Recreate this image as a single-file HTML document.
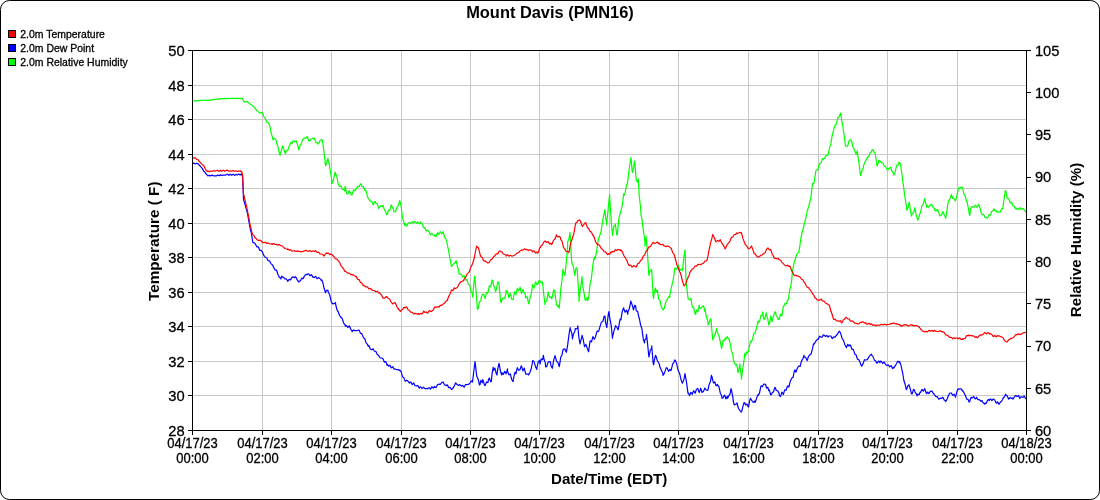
<!DOCTYPE html>
<html><head><meta charset="utf-8"><title>Mount Davis (PMN16)</title>
<style>html,body{margin:0;padding:0;background:#fff;width:1100px;height:500px;overflow:hidden} .n{stroke:#000;stroke-width:0.3px}</style>
</head><body>
<svg width="1100" height="500" viewBox="0 0 1100 500" style="display:block">
<rect x="0.5" y="0.5" width="1099" height="499" rx="9" ry="9" fill="#fff" stroke="#000" stroke-width="1"/>
<path d="M262.5,50 V430 M331.5,50 V430 M401.5,50 V430 M470.5,50 V430 M539.5,50 V430 M609.5,50 V430 M678.5,50 V430 M748.5,50 V430 M818.5,50 V430 M887.5,50 V430 M957.5,50 V430 M192,395.5 H1026 M192,361.5 H1026 M192,326.5 H1026 M192,292.5 H1026 M192,257.5 H1026 M192,223.5 H1026 M192,188.5 H1026 M192,154.5 H1026 M192,119.5 H1026 M192,85.5 H1026" stroke="#c8c8c8" stroke-width="1" fill="none"/>
<path d="M192.5,100.9 L192.5,101.0 L193.9,101.0 L195.3,100.7 L196.7,100.9 L198.1,100.5 L199.5,100.6 L200.0,100.5 L200.9,100.2 L202.3,100.5 L203.7,100.0 L205.1,100.4 L206.5,100.3 L207.9,100.3 L209.3,100.0 L210.7,100.3 L211.0,100.0 L212.1,99.6 L213.5,99.7 L214.9,99.3 L216.3,99.2 L217.0,99.0 L217.7,98.8 L219.1,99.1 L220.5,98.7 L221.9,98.5 L223.3,99.0 L224.7,98.4 L226.1,98.8 L227.5,98.7 L228.9,98.3 L230.0,98.5 L230.3,98.7 L231.7,98.2 L233.1,98.3 L234.5,98.4 L235.9,98.7 L237.3,98.3 L238.7,98.2 L240.1,98.8 L241.5,98.2 L242.6,98.5 L242.9,99.6 L244.0,102.0 L244.3,102.1 L245.7,101.5 L247.0,101.6 L247.1,101.9 L248.5,102.6 L249.9,104.0 L251.3,104.6 L252.7,106.1 L253.0,106.0 L254.1,107.0 L255.5,109.0 L256.9,110.5 L258.3,111.6 L259.0,112.5 L259.7,112.8 L261.1,112.6 L262.0,112.5 L262.5,112.9 L263.9,116.9 L265.3,118.1 L265.5,119.0 L266.7,121.9 L268.1,122.6 L269.5,124.9 L270.0,127.0 L270.9,132.0 L272.3,136.7 L273.0,140.0 L273.7,138.7 L275.1,138.7 L276.0,140.0 L276.5,142.7 L277.9,146.2 L279.3,153.0 L280.0,155.4 L280.7,152.6 L282.1,148.3 L282.7,146.0 L283.5,147.8 L284.9,152.6 L285.5,153.5 L286.3,150.7 L287.7,150.2 L288.4,148.7 L289.1,146.2 L290.5,143.6 L291.0,142.0 L291.9,143.4 L293.3,140.7 L294.7,141.6 L296.0,141.0 L296.1,140.7 L297.5,144.5 L298.9,150.0 L299.0,148.7 L300.3,145.2 L301.7,142.4 L301.8,142.0 L303.1,139.0 L304.5,138.0 L305.9,138.3 L306.5,137.0 L307.3,136.6 L308.7,140.8 L310.0,141.0 L310.1,140.5 L311.5,138.7 L312.9,138.2 L314.0,139.0 L314.3,138.1 L315.7,142.0 L317.1,142.7 L318.0,144.0 L318.5,144.0 L319.9,140.7 L321.3,139.6 L322.0,139.6 L322.7,142.3 L323.7,150.0 L324.1,152.7 L325.5,165.7 L325.6,166.0 L326.9,161.4 L328.0,158.3 L328.3,161.1 L329.5,165.0 L329.7,167.3 L331.1,175.4 L332.0,183.4 L332.5,182.7 L333.9,177.9 L335.2,172.0 L335.3,173.2 L336.7,175.9 L338.1,183.5 L339.0,185.3 L339.5,186.5 L340.9,185.7 L342.3,189.0 L343.7,189.6 L344.7,191.0 L345.1,186.5 L345.3,186.3 L346.5,193.1 L347.0,194.0 L347.9,194.0 L349.3,190.3 L349.5,191.0 L350.7,193.7 L351.4,195.0 L352.1,194.9 L353.5,189.9 L354.3,190.0 L354.9,190.9 L356.3,188.7 L357.7,186.4 L359.1,186.7 L360.5,183.7 L361.0,184.0 L361.9,186.7 L363.3,186.2 L364.7,190.3 L364.8,189.0 L366.1,190.8 L367.5,196.8 L368.6,198.7 L368.9,198.9 L370.3,201.1 L371.7,201.1 L373.1,204.9 L373.4,204.4 L374.5,201.7 L375.3,201.5 L375.9,203.5 L377.3,203.7 L378.7,208.5 L379.0,208.0 L380.1,206.7 L381.5,205.5 L382.9,206.7 L383.0,205.4 L384.3,209.7 L385.7,211.7 L386.5,214.7 L387.1,214.8 L388.5,210.3 L389.9,210.3 L391.3,204.9 L391.5,206.0 L392.7,207.3 L394.1,211.6 L395.3,211.9 L395.5,211.8 L396.9,207.4 L398.3,205.5 L399.7,200.6 L400.0,201.0 L401.1,206.3 L402.5,217.6 L403.0,219.5 L403.9,222.1 L404.8,225.5 L405.3,223.7 L406.7,226.3 L408.1,223.3 L409.5,222.3 L410.9,223.9 L412.3,221.9 L413.7,222.6 L414.4,221.7 L415.1,221.7 L416.5,223.1 L417.9,222.1 L419.3,224.0 L420.7,221.9 L421.0,223.6 L422.1,223.6 L423.5,227.6 L424.9,227.7 L425.8,230.3 L426.3,231.0 L427.7,230.1 L429.1,231.9 L430.5,234.9 L431.9,233.2 L433.3,235.5 L434.4,236.0 L434.7,235.0 L436.1,236.5 L437.5,232.7 L438.9,234.6 L439.2,233.0 L440.3,231.6 L441.7,233.7 L443.0,233.0 L443.1,231.7 L444.5,236.8 L445.9,239.1 L446.8,241.7 L447.3,244.7 L448.7,251.1 L450.1,259.4 L451.5,266.6 L451.6,266.5 L452.9,264.5 L454.3,263.5 L455.7,261.4 L456.4,260.8 L457.1,265.1 L458.5,270.0 L459.2,274.2 L459.9,274.1 L461.3,274.2 L462.7,276.9 L464.0,276.0 L464.1,275.3 L465.5,280.1 L466.9,279.5 L468.3,284.3 L469.7,284.9 L469.7,285.6 L471.1,291.9 L472.5,293.8 L472.6,297.0 L473.9,283.5 L474.5,276.0 L475.3,282.2 L476.7,298.9 L477.4,309.5 L478.1,308.6 L479.5,301.5 L480.9,301.1 L481.0,299.0 L482.3,294.3 L483.7,294.3 L485.1,298.6 L486.5,292.3 L487.0,293.3 L487.9,292.8 L489.3,285.8 L490.7,286.5 L492.1,280.0 L492.6,280.0 L493.5,285.2 L494.9,288.6 L495.5,291.4 L496.3,289.9 L497.7,282.0 L498.4,281.8 L499.1,284.6 L500.5,300.8 L501.2,302.8 L501.9,300.0 L503.3,297.8 L504.7,298.3 L506.0,293.3 L506.1,290.3 L507.5,291.6 L508.9,297.7 L510.3,293.3 L511.7,299.1 L513.1,299.8 L513.6,297.0 L514.5,291.8 L515.9,294.6 L517.3,288.5 L517.5,288.5 L518.7,290.8 L520.1,287.1 L521.5,293.5 L522.9,289.4 L524.3,293.2 L525.0,293.3 L525.7,297.9 L527.1,296.7 L528.5,303.1 L529.0,303.8 L529.9,298.2 L531.3,293.7 L532.7,284.6 L532.7,285.6 L534.1,288.0 L535.5,281.8 L536.9,284.8 L538.3,283.5 L538.5,281.0 L539.7,280.6 L541.1,282.7 L542.3,281.8 L542.5,282.1 L543.9,295.8 L545.0,304.7 L545.3,302.3 L546.7,300.8 L548.0,293.3 L548.1,292.1 L549.5,297.4 L550.9,296.9 L551.8,299.0 L552.3,296.5 L553.7,290.0 L554.7,290.4 L555.1,294.6 L556.5,304.3 L557.5,306.6 L557.9,305.0 L559.3,308.3 L559.5,304.7 L560.0,299.5 L560.7,289.9 L562.1,279.5 L562.9,269.0 L563.5,271.6 L564.8,274.6 L564.9,275.6 L566.3,261.9 L567.6,246.0 L567.7,242.2 L569.1,238.1 L570.0,232.6 L570.5,239.6 L571.5,259.4 L571.9,262.6 L573.3,266.5 L574.3,272.7 L574.7,275.3 L576.1,267.6 L577.2,269.0 L577.5,273.7 L578.9,296.9 L579.0,301.4 L580.3,289.3 L581.7,280.6 L582.0,276.5 L583.1,287.8 L584.5,295.3 L584.8,299.5 L585.9,300.4 L587.3,297.2 L587.7,300.4 L588.7,297.3 L590.1,283.7 L590.5,282.3 L591.5,277.4 L592.9,264.7 L594.3,257.0 L594.4,259.4 L595.7,256.2 L597.1,248.0 L598.2,240.3 L598.5,238.6 L599.9,235.3 L601.3,230.3 L602.0,225.0 L602.7,220.8 L604.1,213.1 L604.9,209.7 L605.5,216.0 L606.8,225.0 L606.9,221.1 L608.0,211.6 L608.3,207.2 L609.6,194.4 L609.7,197.5 L611.1,218.6 L611.2,222.0 L612.5,235.4 L612.5,234.5 L613.9,226.1 L615.3,225.4 L615.4,224.0 L616.7,234.8 L617.3,234.5 L618.1,226.1 L619.2,216.4 L619.5,216.1 L620.9,210.3 L621.0,210.6 L622.3,205.2 L623.7,193.7 L624.0,195.4 L625.1,193.3 L626.5,184.8 L626.8,185.8 L627.9,180.1 L628.7,173.4 L629.3,168.0 L630.7,158.9 L631.0,157.6 L632.1,170.9 L632.5,172.5 L633.5,167.8 L634.5,161.0 L634.9,163.8 L636.3,180.8 L636.4,180.0 L637.7,182.4 L638.3,179.0 L639.1,194.0 L639.2,195.4 L640.5,206.5 L641.0,214.5 L641.9,218.6 L643.3,230.2 L644.0,234.5 L644.7,239.2 L645.0,246.0 L646.0,238.4 L646.1,236.4 L647.5,253.9 L647.8,258.4 L648.8,274.6 L648.9,275.3 L650.3,270.0 L651.6,270.8 L651.7,269.6 L653.1,295.5 L653.5,298.5 L654.5,291.1 L655.5,288.0 L655.9,292.1 L657.3,290.1 L658.7,299.0 L659.3,299.5 L660.1,300.8 L661.5,307.8 L662.9,309.2 L663.0,310.0 L664.3,308.4 L665.7,302.0 L667.0,299.5 L667.1,299.7 L668.5,296.9 L669.8,297.5 L669.9,295.0 L671.3,287.8 L672.6,282.3 L672.7,282.5 L674.1,273.9 L674.5,269.0 L675.5,267.9 L676.9,269.2 L678.3,265.1 L678.4,266.0 L679.7,270.3 L681.1,269.0 L682.2,270.8 L682.5,269.9 L683.9,257.2 L685.0,249.8 L685.3,256.8 L686.0,280.4 L686.7,287.2 L688.0,297.5 L688.1,298.7 L689.5,299.7 L690.8,300.0 L690.9,298.0 L692.3,307.2 L693.7,307.9 L695.1,314.2 L695.6,314.3 L696.5,310.0 L697.9,311.6 L699.3,305.0 L699.4,307.6 L700.7,308.3 L702.1,306.8 L703.5,305.8 L704.9,311.5 L705.0,308.6 L706.3,316.8 L707.7,320.5 L708.0,324.8 L709.1,323.0 L710.5,318.7 L711.0,319.0 L711.9,330.6 L712.8,340.0 L713.3,338.2 L714.7,335.5 L716.1,330.7 L716.6,328.6 L717.5,333.0 L718.9,335.3 L720.3,341.9 L721.4,347.7 L721.7,348.4 L723.1,340.4 L724.5,340.6 L725.0,338.0 L725.9,338.8 L727.3,336.6 L728.7,339.3 L729.5,340.0 L730.1,343.5 L731.5,351.2 L732.9,354.8 L733.4,360.0 L734.3,362.3 L735.7,365.2 L736.2,364.0 L737.1,366.1 L738.0,372.5 L738.5,371.8 L739.9,363.9 L740.0,365.8 L741.3,376.3 L741.4,379.2 L742.7,369.0 L744.1,360.2 L744.8,353.4 L745.5,355.9 L746.9,351.8 L747.7,352.5 L748.3,351.6 L749.7,345.0 L750.5,341.0 L751.1,342.0 L752.5,339.4 L753.9,333.2 L754.4,333.4 L755.3,332.1 L756.7,327.5 L758.1,320.9 L758.2,322.9 L759.5,321.3 L760.0,320.0 L760.9,315.4 L762.3,315.4 L762.5,311.9 L763.7,318.7 L764.8,319.5 L765.1,317.7 L766.3,312.8 L766.5,315.4 L767.9,319.5 L768.7,325.0 L769.3,324.2 L770.6,318.0 L770.7,316.0 L772.1,321.7 L772.5,319.5 L773.5,316.2 L774.9,311.9 L775.3,311.9 L776.3,315.8 L777.7,317.4 L778.2,319.5 L779.1,319.3 L780.5,314.0 L781.9,316.0 L782.0,314.7 L783.3,306.7 L784.7,305.0 L784.9,303.3 L786.1,303.8 L787.5,300.6 L788.7,298.5 L788.9,295.0 L790.3,287.0 L790.6,288.0 L791.7,279.1 L792.5,270.8 L793.1,267.7 L794.5,261.1 L795.4,259.4 L795.9,257.0 L797.3,253.4 L798.2,252.7 L798.7,252.7 L800.1,244.3 L800.1,244.0 L801.5,234.7 L802.0,232.6 L802.9,229.8 L804.0,225.0 L804.3,223.3 L805.7,218.6 L807.0,212.0 L807.1,211.2 L808.5,207.4 L809.9,201.5 L810.6,199.5 L811.3,193.9 L812.5,183.3 L812.7,184.1 L814.0,183.0 L814.1,182.1 L815.5,173.8 L815.8,170.9 L816.9,170.1 L817.7,170.0 L818.3,168.2 L818.6,165.7 L819.7,163.4 L821.1,163.0 L822.5,158.5 L822.5,159.4 L823.9,158.6 L825.3,157.9 L825.3,156.5 L826.7,155.2 L828.1,155.1 L828.2,154.6 L829.5,147.5 L830.9,143.9 L831.0,142.2 L832.3,134.8 L833.7,129.8 L834.0,128.0 L835.1,124.9 L836.5,124.1 L836.8,122.2 L837.9,117.4 L838.0,118.0 L839.3,116.3 L840.6,113.0 L840.7,113.1 L842.1,123.0 L842.5,124.0 L843.5,130.8 L844.9,140.8 L845.4,146.0 L846.3,146.3 L847.3,146.0 L847.7,146.2 L849.1,140.4 L849.2,140.3 L850.5,139.7 L851.1,140.3 L851.9,142.2 L853.0,147.0 L853.3,147.3 L854.7,150.5 L855.9,153.7 L856.1,154.5 L857.2,150.8 L857.5,153.4 L858.9,162.5 L860.3,174.1 L860.6,175.6 L861.7,171.5 L863.1,168.6 L863.5,166.0 L864.5,162.9 L865.9,160.3 L866.4,159.4 L867.3,157.7 L868.3,156.5 L868.7,156.7 L870.1,152.8 L871.5,151.8 L872.1,149.9 L872.9,149.7 L874.3,152.7 L875.0,152.7 L875.7,156.7 L876.9,166.0 L877.1,165.9 L878.5,162.4 L878.8,160.4 L879.9,160.9 L881.3,162.7 L882.7,162.9 L883.5,164.2 L884.1,165.8 L885.0,166.5 L885.5,166.9 L886.9,169.0 L888.0,170.1 L888.3,168.6 L889.7,168.1 L890.2,167.2 L891.1,168.5 L892.5,171.9 L893.9,173.8 L893.9,175.2 L895.3,171.6 L896.0,168.0 L896.7,165.2 L898.1,165.2 L899.0,162.0 L899.5,163.0 L900.7,164.2 L900.9,167.2 L902.3,176.5 L902.6,179.5 L903.7,187.6 L904.8,196.4 L905.1,197.8 L906.5,206.8 L907.0,210.3 L907.9,208.3 L909.2,202.2 L909.3,202.3 L910.7,212.2 L911.4,216.1 L912.1,214.3 L912.8,213.2 L913.5,213.2 L914.9,207.7 L915.0,208.8 L916.3,215.5 L917.7,219.4 L917.7,220.2 L919.1,216.7 L920.1,213.2 L920.5,212.7 L921.9,205.9 L923.3,204.0 L924.5,198.6 L924.7,198.7 L926.1,204.4 L926.7,207.3 L927.5,206.0 L928.9,207.2 L930.3,204.9 L931.7,204.7 L931.8,204.4 L933.1,207.5 L934.5,208.5 L934.7,210.3 L935.9,211.0 L937.3,209.5 L937.7,209.5 L938.7,212.8 L939.9,216.1 L940.1,215.1 L941.5,215.0 L942.8,211.7 L942.9,211.5 L944.3,215.3 L945.7,217.7 L945.7,218.3 L947.1,209.6 L947.9,203.7 L948.5,201.3 L949.9,199.2 L951.3,194.6 L951.5,194.9 L952.7,198.2 L954.1,198.7 L955.2,200.8 L955.5,200.7 L956.9,195.7 L958.3,188.9 L958.8,187.6 L959.7,188.6 L961.1,187.0 L962.5,188.3 L962.5,187.6 L963.9,193.8 L964.7,195.7 L965.3,196.0 L966.7,201.8 L966.9,201.5 L968.1,206.8 L969.5,215.1 L969.8,215.4 L970.9,208.2 L971.2,207.3 L972.3,206.6 L973.7,207.3 L974.9,205.9 L975.1,205.1 L976.5,206.5 L977.1,207.3 L977.9,206.2 L978.5,204.4 L979.3,205.8 L980.7,210.6 L980.7,211.7 L982.1,214.6 L983.5,214.3 L984.4,216.1 L984.9,217.2 L986.3,217.3 L987.3,218.3 L987.7,217.9 L989.1,214.6 L990.5,215.0 L990.9,213.2 L991.9,211.2 L993.3,210.4 L993.9,208.8 L994.7,210.6 L996.1,210.6 L996.8,212.4 L997.5,211.8 L998.9,211.8 L1000.3,212.2 L1000.4,211.7 L1001.7,208.6 L1002.6,208.8 L1003.1,206.0 L1004.5,196.5 L1005.3,190.5 L1005.9,191.2 L1007.3,198.3 L1007.7,198.6 L1008.7,198.4 L1010.1,202.7 L1011.4,203.0 L1011.5,201.9 L1012.9,205.9 L1014.3,206.1 L1014.3,206.6 L1015.7,209.0 L1017.1,208.1 L1017.2,209.5 L1018.5,209.4 L1019.9,207.5 L1020.1,208.8 L1021.3,209.1 L1022.7,208.6 L1023.8,208.8 L1024.1,210.3 L1025.5,210.9 L1025.7,212.4" stroke="#00ff00" stroke-width="1.2" fill="none" stroke-linejoin="round"/>
<path d="M192.5,161.9 L192.5,162.4 L193.9,163.4 L195.3,163.9 L196.0,163.5 L196.7,163.2 L198.1,163.9 L199.5,165.5 L199.6,165.3 L200.9,166.9 L202.3,168.3 L203.7,171.3 L205.1,172.3 L205.4,173.0 L206.5,174.3 L207.9,175.9 L208.0,175.8 L209.3,175.4 L210.7,175.9 L212.1,175.1 L213.5,175.8 L214.9,175.9 L216.3,175.9 L217.7,175.0 L219.1,175.8 L220.5,174.7 L220.6,175.2 L221.9,175.4 L223.3,175.2 L224.7,175.2 L226.1,174.8 L227.5,174.2 L228.9,175.3 L230.3,174.2 L231.7,175.2 L233.1,174.1 L234.5,175.4 L235.9,174.4 L237.3,175.0 L238.7,174.0 L240.1,175.0 L241.5,173.8 L241.6,174.4 L242.6,177.0 L242.9,184.8 L243.5,199.6 L244.3,202.0 L245.7,206.9 L247.1,211.8 L247.4,213.0 L248.5,219.2 L249.9,226.9 L251.0,232.0 L251.3,232.5 L252.7,241.7 L253.0,242.6 L254.1,242.7 L255.5,244.2 L256.9,247.0 L258.3,246.8 L259.7,250.3 L260.7,250.3 L261.1,250.3 L262.5,252.2 L263.9,255.7 L264.5,256.0 L265.3,257.2 L266.7,257.7 L268.1,260.7 L269.3,260.8 L269.5,260.8 L270.9,263.6 L272.3,264.7 L273.7,267.4 L275.1,270.0 L276.0,270.3 L276.5,270.0 L277.9,274.3 L279.3,277.3 L280.7,278.2 L280.8,279.0 L281.7,276.0 L282.1,277.2 L283.5,277.1 L284.9,278.8 L286.3,278.8 L287.5,280.8 L287.7,281.4 L289.1,279.3 L290.5,279.9 L291.9,277.4 L293.3,276.9 L294.7,277.7 L295.0,276.6 L296.1,277.5 L297.5,280.6 L298.9,282.0 L299.0,281.2 L300.3,281.0 L301.7,278.3 L303.1,278.6 L304.5,275.9 L305.9,274.4 L307.3,274.6 L307.5,274.0 L308.7,273.9 L310.1,275.8 L311.5,274.6 L312.9,277.3 L314.2,277.0 L314.3,277.6 L315.7,276.3 L317.1,278.8 L318.5,277.6 L319.9,278.5 L321.3,280.5 L321.8,279.9 L322.7,281.9 L324.1,288.3 L325.5,292.7 L325.6,292.3 L326.9,290.1 L328.0,290.4 L328.3,292.2 L329.7,294.7 L331.1,301.2 L332.3,303.7 L332.5,303.4 L333.9,303.8 L335.2,302.8 L335.3,302.5 L336.7,308.8 L337.6,311.0 L338.1,311.5 L339.5,315.3 L340.9,317.5 L341.0,317.0 L342.3,318.7 L343.7,323.1 L345.1,324.8 L345.3,326.2 L346.5,325.6 L347.9,327.5 L349.3,325.8 L350.0,327.2 L350.7,329.2 L352.0,330.6 L352.1,331.6 L353.5,330.0 L354.9,330.6 L356.3,330.7 L357.7,330.5 L358.6,330.0 L359.1,330.3 L360.5,333.2 L361.9,333.9 L363.3,337.4 L364.4,338.6 L364.7,338.5 L366.1,342.9 L367.5,344.3 L368.2,346.3 L368.9,345.7 L370.3,348.9 L371.7,349.8 L373.1,348.8 L374.0,350.5 L374.5,351.2 L375.9,351.4 L377.3,354.6 L378.7,355.5 L378.7,355.8 L380.1,358.0 L381.5,358.0 L382.9,358.5 L383.5,360.0 L384.3,362.1 L385.7,361.5 L387.1,365.3 L387.3,364.4 L388.5,366.2 L389.9,365.1 L391.3,367.9 L392.7,366.6 L394.1,369.1 L395.0,369.2 L395.5,369.0 L396.9,369.7 L398.3,369.5 L399.7,370.7 L399.7,370.0 L401.1,371.7 L402.5,376.7 L403.9,377.7 L404.5,379.7 L405.3,381.2 L406.7,380.2 L408.1,381.3 L409.5,383.0 L410.2,382.5 L410.9,382.0 L412.3,384.7 L413.7,383.0 L415.1,385.7 L416.5,385.8 L417.9,385.6 L419.3,388.2 L419.7,387.3 L420.7,386.8 L422.1,388.6 L423.5,387.2 L424.9,388.7 L426.3,388.6 L427.4,388.3 L427.7,388.8 L429.1,387.6 L430.5,389.1 L431.9,386.7 L433.3,388.0 L434.7,386.5 L435.0,387.3 L436.1,387.6 L437.5,384.8 L438.9,384.1 L440.3,384.4 L441.7,382.7 L442.6,382.5 L443.1,382.0 L444.5,384.8 L445.9,385.6 L447.3,384.9 L448.7,387.6 L450.1,387.4 L451.5,389.4 L452.2,389.2 L452.9,388.4 L454.3,385.9 L455.7,382.8 L456.0,383.5 L457.1,384.5 L458.5,385.5 L459.9,384.6 L461.3,386.1 L462.7,385.4 L463.6,386.4 L464.1,387.3 L465.5,384.5 L466.9,384.7 L468.3,384.4 L469.7,383.5 L470.3,382.5 L471.1,380.9 L472.2,381.6 L472.5,382.0 L473.9,370.8 L475.0,361.5 L475.3,363.5 L476.6,375.0 L476.7,376.1 L478.1,378.9 L479.5,385.0 L480.0,384.5 L480.9,380.3 L482.3,382.8 L482.7,379.7 L483.7,382.4 L484.6,385.4 L485.1,385.5 L486.5,381.9 L487.9,382.7 L488.5,379.7 L489.3,377.9 L490.7,381.7 L491.3,381.6 L492.1,373.6 L493.2,367.3 L493.5,370.4 L494.9,368.1 L496.3,373.9 L497.0,375.0 L497.7,369.1 L499.0,363.5 L499.1,363.4 L500.5,371.7 L501.8,375.0 L501.9,372.6 L503.3,374.4 L504.7,371.3 L506.1,373.9 L507.5,368.8 L507.5,371.0 L508.9,374.9 L510.3,373.9 L511.7,379.5 L513.1,381.6 L513.3,379.7 L514.5,373.9 L515.2,372.0 L515.9,373.9 L517.3,367.7 L518.7,370.3 L520.1,369.5 L521.0,366.3 L521.5,365.9 L522.9,370.9 L524.3,368.1 L525.7,374.1 L527.1,374.2 L528.5,374.0 L528.6,375.0 L529.9,372.4 L531.3,368.5 L532.4,362.5 L532.7,360.5 L534.1,361.9 L535.5,366.7 L536.9,369.4 L537.0,367.3 L538.3,361.5 L539.6,360.6 L539.7,361.9 L540.0,364.0 L541.1,359.0 L542.5,359.8 L543.4,355.4 L543.9,358.7 L545.3,362.9 L545.7,366.8 L546.7,366.6 L548.1,362.3 L549.5,361.6 L550.5,362.0 L550.9,365.5 L552.3,368.3 L552.4,367.8 L553.7,360.2 L555.1,355.6 L555.3,356.3 L556.5,361.1 L557.9,362.3 L559.0,365.9 L559.3,366.7 L560.7,357.3 L562.1,354.8 L563.0,349.6 L563.5,349.4 L564.9,348.9 L566.3,352.3 L566.7,350.6 L567.7,344.7 L569.1,333.8 L570.2,327.7 L570.5,329.5 L571.9,333.4 L572.5,339.0 L573.3,334.6 L574.7,331.7 L575.3,328.6 L576.1,329.0 L577.5,328.3 L577.8,325.8 L578.9,337.5 L580.0,344.0 L580.3,342.3 L581.7,337.3 L582.0,335.3 L583.1,338.9 L584.5,346.7 L584.9,345.8 L585.9,344.5 L587.3,348.4 L588.7,351.8 L588.7,350.6 L590.1,340.9 L590.6,341.0 L591.5,341.9 L592.9,336.6 L594.3,339.3 L595.4,337.2 L595.7,335.9 L597.1,331.1 L598.5,331.4 L599.2,329.6 L599.9,326.9 L601.3,322.4 L602.7,321.3 L603.0,321.0 L604.1,316.4 L605.0,316.2 L605.5,322.1 L606.8,327.7 L606.9,326.3 L608.3,314.1 L609.0,311.5 L609.7,317.6 L611.1,324.8 L612.5,338.3 L612.5,337.2 L613.9,331.1 L615.3,326.9 L615.4,325.8 L616.7,326.9 L618.1,329.6 L618.3,329.6 L619.5,322.2 L620.2,319.0 L620.9,319.8 L622.3,311.2 L623.7,307.8 L624.0,309.5 L625.1,312.2 L626.5,310.1 L627.8,314.3 L627.9,312.0 L629.3,308.5 L630.7,302.4 L630.7,301.0 L632.1,304.6 L633.5,309.9 L633.5,309.5 L634.9,305.2 L635.5,305.7 L636.3,310.7 L637.7,311.6 L639.1,318.3 L639.3,318.0 L640.5,324.6 L641.2,326.7 L641.9,328.6 L643.3,339.2 L644.6,343.0 L644.7,339.9 L646.1,338.7 L646.5,334.4 L647.5,343.1 L648.8,356.3 L648.9,356.9 L650.3,350.1 L651.7,348.5 L651.7,345.8 L653.1,362.5 L653.6,365.0 L654.5,359.5 L655.5,355.4 L655.9,355.9 L657.3,360.5 L658.7,363.0 L659.3,364.0 L660.1,367.6 L661.5,370.5 L662.9,373.5 L663.0,375.4 L664.3,373.4 L665.7,369.4 L666.0,367.8 L667.1,367.8 L668.5,371.4 L669.9,369.3 L670.8,370.6 L671.3,369.7 L672.7,363.8 L674.1,362.2 L674.6,360.0 L675.5,360.4 L676.9,364.5 L677.5,367.8 L678.3,370.8 L679.7,373.7 L681.1,379.8 L682.2,383.0 L682.5,383.1 L683.9,379.6 L685.0,373.5 L685.3,375.2 L686.7,383.4 L688.0,393.5 L688.1,392.6 L689.5,395.5 L690.9,392.3 L692.3,394.4 L692.7,392.6 L693.7,390.7 L695.1,393.3 L696.5,389.3 L697.9,388.5 L698.5,390.7 L699.3,392.6 L700.7,388.2 L702.1,392.5 L703.5,391.3 L704.2,389.7 L704.9,388.1 L706.3,390.0 L707.7,390.5 L708.0,389.7 L709.1,384.6 L710.5,381.4 L711.4,375.4 L711.9,376.5 L713.3,382.4 L713.7,383.0 L714.7,381.8 L716.1,385.8 L717.5,384.5 L717.5,385.0 L718.9,386.7 L720.0,391.6 L720.3,393.2 L721.7,395.8 L722.0,398.3 L723.1,397.7 L724.5,395.1 L724.8,395.4 L725.9,398.9 L727.3,396.3 L727.6,398.3 L728.7,395.9 L730.1,393.8 L731.0,388.7 L731.5,390.2 L732.9,397.7 L733.4,402.0 L734.3,405.0 L735.7,404.3 L737.1,402.9 L737.2,404.0 L738.5,408.5 L739.9,410.3 L741.3,412.1 L742.0,410.7 L742.7,407.2 L744.1,402.4 L744.8,403.0 L745.5,405.0 L746.9,404.0 L748.3,407.0 L748.6,406.9 L749.7,400.4 L750.5,398.3 L751.1,399.3 L752.5,401.8 L753.9,402.5 L754.4,401.0 L755.3,402.1 L756.7,398.0 L758.1,394.6 L758.2,395.4 L759.5,393.1 L760.9,386.1 L762.0,385.9 L762.3,386.7 L763.7,384.2 L765.1,384.2 L765.8,385.0 L766.5,388.2 L767.9,387.3 L768.7,390.6 L769.3,389.9 L770.7,394.8 L771.5,394.5 L772.1,392.8 L773.5,391.7 L774.9,387.4 L775.4,387.8 L776.3,390.5 L777.7,390.8 L779.1,393.4 L779.2,395.4 L780.5,396.6 L781.9,392.1 L783.0,393.5 L783.3,394.7 L784.7,389.8 L786.1,390.2 L787.5,386.0 L788.7,385.9 L788.9,387.1 L790.3,381.2 L791.7,378.3 L792.5,377.3 L793.1,377.4 L794.5,370.0 L795.4,370.6 L795.9,372.2 L797.3,368.3 L798.7,366.0 L800.1,366.5 L800.2,365.8 L801.5,361.1 L802.9,358.8 L804.0,355.3 L804.3,356.9 L805.7,357.5 L806.9,360.0 L807.1,360.7 L808.5,356.4 L809.9,354.8 L810.7,354.4 L811.3,353.3 L812.7,347.7 L813.5,343.9 L814.1,344.2 L815.5,341.7 L816.9,339.8 L817.4,339.0 L818.3,339.3 L819.7,336.1 L821.1,337.2 L822.5,336.9 L823.0,335.3 L823.9,334.8 L825.3,336.4 L826.7,335.4 L828.1,337.0 L828.8,336.2 L829.5,336.0 L830.9,336.0 L832.3,338.7 L832.6,338.1 L833.7,336.8 L835.1,337.2 L836.5,335.0 L836.5,335.3 L837.9,333.3 L839.3,331.2 L839.9,331.8 L840.7,333.3 L842.1,338.5 L843.5,340.4 L844.9,344.8 L846.0,346.7 L846.3,347.7 L847.7,344.4 L849.1,346.0 L849.8,344.8 L850.5,345.3 L851.9,349.3 L853.3,349.3 L854.7,353.9 L855.5,354.4 L856.1,355.0 L857.5,359.2 L858.9,359.8 L860.3,363.1 L861.3,365.8 L861.7,366.1 L863.1,363.6 L864.5,359.6 L865.0,360.0 L865.9,359.9 L867.3,359.6 L868.7,357.2 L870.1,355.4 L871.5,354.1 L871.8,355.3 L872.9,356.4 L874.3,359.9 L875.7,360.9 L876.5,363.0 L877.1,363.1 L878.5,361.0 L879.9,362.7 L880.4,361.0 L881.3,361.3 L882.7,363.4 L884.1,362.0 L885.5,364.4 L886.9,365.5 L888.0,365.2 L888.3,364.9 L889.7,366.8 L891.1,365.6 L892.5,368.6 L893.9,367.1 L893.9,367.8 L895.3,365.7 L896.7,363.3 L897.5,361.6 L898.1,361.2 L899.5,362.8 L899.7,361.6 L900.9,364.9 L902.3,371.5 L902.6,372.5 L903.7,379.5 L904.1,381.3 L905.1,384.3 L906.3,389.3 L906.5,389.5 L907.9,385.6 L909.2,384.9 L909.3,385.9 L910.7,390.3 L911.4,393.7 L912.1,394.0 L913.5,389.4 L914.3,389.7 L914.9,391.9 L916.3,393.8 L917.2,395.9 L917.7,394.0 L919.1,394.8 L920.1,392.2 L920.5,392.4 L921.9,389.5 L923.3,391.2 L924.5,388.9 L924.7,388.7 L926.1,392.8 L926.7,393.7 L927.5,392.0 L928.9,393.6 L930.3,391.3 L931.7,391.2 L931.8,390.8 L933.1,393.2 L934.5,394.5 L934.7,395.1 L935.9,396.6 L937.3,396.7 L938.7,399.2 L939.9,398.8 L940.1,398.2 L941.5,398.5 L942.8,397.3 L942.9,397.3 L944.3,400.2 L945.7,400.6 L945.7,401.7 L947.1,399.0 L948.5,395.6 L948.6,395.1 L949.9,393.0 L951.3,393.0 L951.5,393.2 L952.7,395.4 L954.1,394.2 L955.2,396.6 L955.5,397.2 L956.9,391.6 L958.1,388.9 L958.3,389.3 L959.7,388.9 L961.1,388.9 L962.5,390.8 L962.5,390.3 L963.9,392.6 L965.3,395.4 L966.1,397.3 L966.7,399.1 L968.1,399.4 L969.0,402.0 L969.5,402.0 L970.9,397.7 L971.2,397.6 L972.3,397.9 L973.7,396.5 L975.1,398.9 L976.4,398.0 L976.5,397.2 L977.9,399.7 L979.3,399.6 L980.7,401.2 L982.1,400.6 L982.2,401.7 L983.5,403.0 L984.9,404.2 L985.1,403.2 L986.3,403.3 L987.7,400.1 L988.8,399.5 L989.1,400.5 L990.5,398.9 L991.9,400.5 L993.3,399.0 L993.9,399.5 L994.7,399.9 L996.1,402.7 L996.8,403.2 L997.5,401.9 L998.9,404.3 L999.7,403.2 L1000.3,402.2 L1001.7,401.0 L1002.6,399.5 L1003.1,398.0 L1004.5,396.7 L1005.5,394.4 L1005.9,394.6 L1007.3,396.2 L1008.5,398.8 L1008.7,399.2 L1010.1,397.5 L1011.5,398.5 L1012.8,398.1 L1012.9,399.2 L1014.3,397.0 L1015.7,395.4 L1016.5,395.9 L1017.1,396.6 L1018.5,395.5 L1019.9,398.6 L1020.1,397.3 L1021.3,396.8 L1022.7,397.5 L1023.8,396.6 L1024.1,395.7 L1025.5,398.6 L1026.0,398.8" stroke="#0000ff" stroke-width="1.2" fill="none" stroke-linejoin="round"/>
<path d="M192.5,157.0 L192.5,157.4 L193.9,158.2 L195.3,157.5 L196.0,158.5 L196.7,159.5 L198.1,159.7 L199.5,161.9 L199.6,161.5 L200.9,163.2 L202.3,164.7 L203.7,165.5 L204.4,167.0 L205.1,168.5 L206.5,170.7 L207.3,171.4 L207.9,171.1 L209.3,171.6 L210.7,171.0 L212.1,171.3 L213.5,170.5 L214.9,171.2 L216.3,170.5 L217.7,170.4 L219.1,171.4 L220.5,170.1 L220.6,170.6 L221.9,171.3 L223.3,170.1 L224.7,171.3 L226.1,170.4 L227.5,170.2 L228.9,171.2 L230.0,171.0 L230.3,170.8 L231.7,171.3 L233.1,170.5 L234.5,171.3 L235.9,170.8 L237.3,171.5 L238.7,171.2 L240.1,170.7 L241.5,172.0 L241.6,171.4 L242.6,174.8 L242.9,181.7 L243.5,194.0 L244.3,196.7 L245.7,202.9 L246.4,205.4 L247.1,209.0 L248.5,215.9 L249.3,220.6 L249.9,224.1 L251.3,229.5 L252.0,233.0 L252.7,234.3 L254.1,235.8 L255.0,237.9 L255.5,237.9 L256.9,239.5 L258.3,240.6 L259.7,240.0 L261.1,240.8 L262.5,242.5 L262.6,242.3 L263.9,242.8 L265.3,242.2 L266.7,243.5 L268.1,242.9 L269.5,243.8 L270.9,244.0 L272.2,243.6 L272.3,244.4 L273.7,243.5 L275.1,244.5 L276.5,244.4 L277.9,245.1 L279.3,244.4 L280.7,245.6 L280.8,245.5 L282.1,246.0 L283.5,247.1 L284.9,248.5 L286.3,249.0 L287.5,249.3 L287.7,248.8 L289.1,250.1 L290.5,249.7 L291.9,251.1 L293.3,251.0 L294.7,250.7 L295.0,251.2 L296.1,251.5 L297.5,250.9 L298.9,251.4 L300.3,251.7 L301.7,251.7 L303.1,251.4 L304.5,250.9 L305.9,250.2 L306.5,250.7 L307.3,251.2 L308.7,251.2 L310.1,250.6 L311.5,251.7 L312.9,250.8 L314.3,251.5 L315.7,250.6 L316.0,251.2 L317.1,252.3 L318.5,252.2 L319.9,253.8 L321.3,254.0 L322.7,254.5 L323.7,255.6 L324.1,256.0 L325.5,253.8 L326.6,253.0 L326.9,253.4 L328.3,253.1 L329.7,254.6 L331.1,254.1 L332.3,255.0 L332.5,255.3 L333.9,256.5 L335.3,258.7 L336.7,258.8 L338.1,260.6 L339.0,261.7 L339.5,261.9 L340.9,265.6 L342.3,267.1 L343.7,269.1 L344.7,271.3 L345.1,271.3 L346.5,272.1 L347.9,273.2 L349.3,273.1 L350.7,274.6 L352.1,274.6 L353.5,275.1 L354.9,275.9 L356.2,277.0 L356.3,276.4 L357.7,279.3 L359.1,279.6 L360.5,282.5 L361.9,283.1 L363.3,285.8 L363.8,285.6 L364.7,285.9 L366.1,286.9 L367.5,286.8 L368.9,288.9 L370.3,288.5 L371.5,289.4 L371.7,289.9 L373.1,290.5 L374.5,290.5 L375.9,291.8 L377.3,291.2 L378.7,292.8 L379.0,292.3 L380.1,293.6 L381.5,295.2 L382.7,297.3 L382.9,298.1 L384.3,298.2 L384.5,298.2 L385.7,297.1 L386.8,296.4 L387.1,297.5 L388.5,298.4 L389.9,299.2 L390.0,300.0 L391.3,302.3 L392.7,303.8 L392.7,304.0 L394.1,302.8 L395.0,302.7 L395.5,303.2 L396.9,306.8 L398.2,309.0 L398.3,308.4 L399.7,310.7 L400.5,311.4 L401.1,310.3 L402.5,309.5 L403.6,307.7 L403.9,307.3 L405.3,307.7 L406.4,306.8 L406.7,307.1 L408.1,309.8 L409.5,310.6 L410.0,311.4 L410.9,312.2 L412.3,312.3 L413.7,314.0 L414.5,314.0 L415.1,313.2 L416.5,313.7 L417.9,314.3 L418.2,313.6 L419.3,314.4 L420.7,313.3 L421.8,314.0 L422.1,313.8 L423.5,311.9 L423.6,311.0 L424.9,312.4 L426.3,312.0 L427.3,313.2 L427.7,313.2 L429.1,310.7 L429.5,310.5 L430.5,311.3 L431.8,311.4 L431.9,310.9 L433.3,309.9 L434.5,307.3 L434.7,306.9 L436.1,307.3 L437.5,306.7 L438.2,306.8 L438.9,307.2 L440.3,305.3 L441.7,305.3 L442.7,304.5 L443.1,304.0 L444.5,303.2 L445.9,301.2 L447.3,300.2 L447.3,300.5 L448.7,296.3 L449.0,296.0 L450.1,293.8 L451.0,291.4 L451.5,289.9 L452.9,290.7 L454.3,287.8 L454.5,288.6 L455.7,288.5 L457.1,287.5 L457.7,286.8 L458.5,285.2 L459.9,283.2 L460.0,282.7 L461.3,281.5 L462.7,281.2 L464.0,280.0 L464.1,278.9 L465.5,277.8 L466.9,274.1 L468.3,272.9 L469.7,271.4 L469.7,270.4 L471.1,266.6 L472.5,264.0 L473.5,260.8 L473.9,259.6 L475.3,252.5 L476.4,247.0 L476.7,246.2 L478.1,247.9 L478.3,247.5 L479.5,251.8 L480.2,255.0 L480.9,256.6 L482.3,257.5 L483.7,260.9 L484.0,260.8 L485.1,260.9 L486.5,261.9 L487.9,263.0 L488.8,262.7 L489.3,262.3 L490.7,259.7 L492.1,259.0 L493.5,256.9 L494.5,256.0 L494.9,255.5 L496.3,253.9 L497.7,253.9 L499.1,251.3 L500.3,251.0 L500.5,251.6 L501.9,251.8 L503.3,254.0 L504.7,254.5 L506.0,255.0 L506.1,256.1 L507.5,254.7 L508.9,256.2 L510.3,255.2 L511.7,256.1 L513.1,255.9 L513.6,255.5 L514.5,255.2 L515.9,254.1 L517.3,252.8 L518.7,252.7 L520.1,250.8 L521.3,250.3 L521.5,249.8 L522.9,250.3 L524.3,248.8 L525.7,249.7 L527.0,249.4 L527.1,249.8 L528.5,250.4 L529.9,249.8 L531.3,250.1 L532.7,252.0 L532.7,251.0 L534.1,250.8 L535.5,253.0 L536.9,252.0 L537.5,253.2 L538.3,252.3 L539.7,247.9 L540.4,247.5 L541.1,245.8 L542.5,244.8 L543.9,241.9 L545.0,240.8 L545.3,241.3 L546.7,242.5 L548.1,241.5 L549.5,244.0 L550.9,243.2 L551.8,244.6 L552.3,243.3 L553.7,240.1 L555.1,238.8 L556.5,234.8 L556.6,235.6 L557.9,237.0 L559.3,236.4 L560.4,237.5 L560.7,239.3 L562.1,241.4 L563.5,247.3 L564.2,248.4 L564.9,249.4 L566.3,251.5 L567.7,251.7 L568.6,252.7 L569.1,251.6 L570.5,243.6 L571.5,240.3 L571.9,240.0 L573.3,235.1 L573.8,234.0 L574.7,228.8 L575.3,225.0 L576.1,222.5 L577.5,221.9 L577.6,220.7 L578.9,220.2 L579.5,219.8 L580.3,220.8 L581.7,225.0 L582.4,226.5 L583.1,225.2 L584.5,223.8 L585.2,222.6 L585.9,222.8 L587.3,227.4 L588.6,228.8 L588.7,228.4 L590.1,231.4 L591.5,232.1 L592.9,235.6 L593.4,235.5 L594.3,237.6 L595.7,242.0 L596.3,243.0 L597.1,244.3 L598.5,244.3 L599.9,246.0 L601.0,248.0 L601.3,248.6 L602.7,249.5 L604.1,251.7 L605.5,251.8 L606.9,253.9 L607.7,254.6 L608.3,253.6 L609.7,254.2 L611.1,251.8 L611.5,252.7 L612.5,251.4 L613.9,251.9 L615.3,249.7 L616.7,250.6 L617.3,249.8 L618.1,249.6 L619.5,249.7 L620.9,250.8 L621.0,249.8 L622.3,251.6 L623.7,255.3 L625.0,257.5 L625.1,257.5 L626.5,259.7 L627.9,263.2 L628.7,265.0 L629.3,265.6 L630.7,265.0 L632.1,267.1 L633.5,265.6 L634.9,266.2 L635.4,267.0 L636.3,267.0 L637.7,263.5 L639.1,263.1 L640.2,261.3 L640.5,260.4 L641.9,259.4 L643.3,256.1 L644.0,255.5 L644.7,254.9 L646.1,251.1 L647.5,250.4 L647.8,248.9 L648.9,246.9 L650.3,246.7 L651.7,244.3 L653.1,242.4 L653.5,242.6 L654.5,243.3 L655.9,243.1 L657.3,242.0 L658.7,243.7 L659.3,243.0 L660.1,244.5 L661.5,244.6 L662.9,244.4 L664.0,246.0 L664.3,245.8 L665.7,246.6 L667.1,246.1 L668.5,246.2 L669.8,247.0 L669.9,247.4 L671.3,248.5 L672.7,252.6 L673.6,253.6 L674.1,254.3 L675.5,259.5 L676.9,264.8 L677.4,266.0 L678.3,267.7 L679.7,271.8 L680.3,272.7 L681.1,275.5 L682.5,281.3 L683.9,285.4 L684.0,286.0 L685.3,284.6 L686.0,283.2 L686.7,280.9 L688.1,277.2 L689.5,274.5 L689.8,272.7 L690.9,270.9 L692.3,269.1 L693.7,268.3 L695.1,266.0 L695.5,266.0 L696.5,266.1 L697.9,264.5 L699.3,264.3 L700.7,264.8 L701.3,264.1 L702.1,263.8 L703.5,263.2 L704.9,261.1 L706.3,260.9 L707.0,260.3 L707.7,257.3 L709.1,249.8 L710.0,246.0 L710.5,243.2 L711.9,238.4 L712.7,234.5 L713.3,235.5 L714.7,238.7 L715.6,241.2 L716.1,241.8 L717.5,240.4 L718.9,241.3 L720.3,239.7 L720.4,240.3 L721.7,242.8 L723.1,244.9 L724.5,247.3 L725.0,248.9 L725.9,247.6 L727.3,244.3 L728.7,242.8 L730.1,240.8 L731.5,237.3 L731.8,237.4 L732.9,236.8 L734.3,234.5 L735.7,234.3 L736.6,233.0 L737.1,233.6 L738.5,233.0 L739.9,232.3 L741.3,233.4 L741.4,232.6 L742.7,237.4 L742.9,238.4 L744.1,241.5 L745.5,245.0 L745.7,245.0 L746.9,246.2 L748.3,248.8 L748.6,248.9 L749.7,248.5 L751.1,246.7 L751.5,246.0 L752.5,248.6 L753.9,252.9 L754.3,253.6 L755.3,254.1 L756.7,256.1 L758.1,257.2 L758.1,257.0 L759.5,256.7 L760.9,255.0 L762.3,254.9 L763.7,253.4 L763.9,253.6 L765.1,252.6 L766.5,249.4 L767.7,248.3 L767.9,247.9 L769.3,249.9 L770.5,249.8 L770.7,249.5 L772.1,253.7 L773.5,256.3 L774.4,258.4 L774.9,258.3 L776.3,258.6 L777.7,258.9 L778.2,258.4 L779.1,259.7 L780.5,260.1 L781.9,262.3 L783.3,263.7 L784.7,265.1 L785.8,266.0 L786.1,265.8 L787.5,265.2 L788.9,266.6 L789.6,266.0 L790.3,266.8 L791.7,270.8 L793.1,273.1 L793.5,274.6 L794.5,275.6 L795.9,275.1 L797.3,276.2 L798.7,276.1 L799.2,276.5 L800.1,277.2 L801.5,279.0 L802.9,280.0 L804.3,282.5 L805.0,283.2 L805.7,284.3 L806.0,285.5 L807.1,287.1 L808.5,287.6 L809.9,289.8 L810.0,289.5 L811.3,291.5 L812.7,293.9 L814.1,295.7 L815.0,298.0 L815.5,297.9 L816.9,299.6 L818.0,300.0 L818.3,300.4 L819.7,299.9 L821.0,299.5 L821.1,298.9 L822.5,300.9 L823.9,301.1 L825.0,302.0 L825.3,303.0 L826.7,303.5 L828.1,304.4 L829.0,305.0 L829.5,305.7 L830.9,311.5 L831.0,311.0 L832.3,315.0 L833.5,319.0 L833.7,319.5 L835.1,319.1 L836.5,321.0 L837.9,320.8 L838.0,321.0 L839.3,321.2 L840.5,321.0 L840.7,320.7 L841.5,323.0 L842.1,322.6 L843.5,319.8 L844.9,318.9 L845.5,317.5 L846.3,317.3 L847.7,318.8 L849.0,319.0 L849.1,318.9 L850.5,321.3 L851.0,321.0 L851.9,320.8 L853.3,321.7 L854.7,323.0 L855.0,323.0 L856.1,323.5 L857.5,323.4 L858.0,324.0 L858.9,323.9 L860.3,322.3 L861.7,322.3 L862.0,321.8 L863.1,321.9 L864.5,323.0 L865.9,322.7 L866.0,323.5 L867.3,324.4 L868.7,323.1 L870.0,324.0 L870.1,324.7 L871.5,323.8 L872.9,325.4 L874.3,324.8 L875.7,325.8 L876.0,325.5 L877.1,325.1 L878.5,325.0 L879.9,325.3 L880.0,325.0 L881.3,324.3 L882.7,324.9 L884.1,324.2 L885.5,324.5 L886.9,325.1 L887.0,324.5 L888.3,324.5 L889.7,324.3 L891.1,323.6 L892.5,323.6 L893.9,322.8 L893.9,322.9 L895.3,324.0 L896.7,323.6 L898.1,324.4 L899.5,324.5 L900.9,326.0 L901.9,325.5 L902.3,326.1 L903.7,325.0 L905.1,324.6 L906.5,324.8 L907.9,325.8 L909.3,325.9 L910.7,324.6 L912.1,325.3 L912.8,325.1 L913.5,325.9 L914.9,325.6 L916.3,325.5 L917.7,326.1 L918.7,327.0 L919.1,326.7 L920.5,329.0 L921.9,330.4 L923.3,331.3 L923.8,331.4 L924.7,331.8 L926.1,331.4 L927.5,331.8 L928.9,330.3 L930.3,331.1 L931.7,330.5 L932.6,330.7 L933.1,331.5 L934.5,330.2 L935.9,331.5 L937.3,331.4 L938.7,331.6 L940.1,330.8 L941.3,331.0 L941.5,331.8 L942.9,331.7 L944.3,332.6 L945.7,334.8 L947.1,335.2 L948.5,336.0 L948.6,336.5 L949.9,337.4 L951.3,337.3 L952.7,338.8 L953.0,338.2 L954.1,337.9 L955.5,338.5 L956.9,337.8 L958.3,338.9 L958.8,338.2 L959.7,337.9 L961.1,339.5 L962.5,338.9 L963.2,339.4 L963.9,338.5 L965.3,338.3 L966.7,335.6 L968.1,335.6 L968.3,335.0 L969.5,335.6 L970.9,335.6 L972.3,335.8 L973.4,335.8 L973.7,335.9 L975.1,337.4 L976.5,336.7 L977.1,337.7 L977.9,337.5 L979.3,335.7 L980.7,334.8 L982.1,335.1 L983.5,334.0 L984.4,332.8 L984.9,332.3 L986.3,333.8 L987.7,332.6 L988.8,333.3 L989.1,333.8 L990.5,333.7 L991.9,334.6 L993.3,336.7 L993.9,336.2 L994.7,335.5 L996.1,336.8 L997.5,335.7 L998.9,335.8 L1000.3,336.6 L1001.2,336.5 L1001.7,336.9 L1003.1,337.8 L1004.5,340.6 L1005.9,341.5 L1006.3,342.0 L1007.3,341.9 L1008.7,339.9 L1010.1,338.9 L1011.4,338.2 L1011.5,338.5 L1012.9,337.7 L1014.3,336.8 L1015.7,334.5 L1017.1,335.0 L1017.2,334.3 L1018.5,333.9 L1019.9,334.6 L1021.3,334.1 L1022.3,333.6 L1022.7,333.0 L1024.1,332.6 L1025.5,332.4 L1025.7,332.1" stroke="#ff0000" stroke-width="1.2" fill="none" stroke-linejoin="round"/>
<path d="M192.5,50 V431 M1026.5,50 V431 M188,50.5 H1031 M188,430.5 H1027 M188,430.5 H192 M188,395.5 H192 M188,361.5 H192 M188,326.5 H192 M188,292.5 H192 M188,257.5 H192 M188,223.5 H192 M188,188.5 H192 M188,154.5 H192 M188,119.5 H192 M188,85.5 H192 M188,50.5 H192 M1027,430.5 H1031 M1027,388.5 H1031 M1027,346.5 H1031 M1027,303.5 H1031 M1027,261.5 H1031 M1027,219.5 H1031 M1027,177.5 H1031 M1027,134.5 H1031 M1027,92.5 H1031 M1027,50.5 H1031 M192.5,431 V435 M262.5,431 V435 M331.5,431 V435 M401.5,431 V435 M470.5,431 V435 M539.5,431 V435 M609.5,431 V435 M678.5,431 V435 M748.5,431 V435 M818.5,431 V435 M887.5,431 V435 M957.5,431 V435 M1026.5,431 V435" stroke="#000" stroke-width="1" fill="none"/>
<g font-family='"Liberation Sans", Arial, sans-serif' fill="#000">
<text x="550" y="17.7" font-size="16.4" font-weight="bold" text-anchor="middle">Mount Davis (PMN16)</text>
<text transform="translate(184.6,435.7) scale(0.95,1)" font-size="15.5" text-anchor="end" class="n">28</text>
<text transform="translate(184.6,400.7) scale(0.95,1)" font-size="15.5" text-anchor="end" class="n">30</text>
<text transform="translate(184.6,366.7) scale(0.95,1)" font-size="15.5" text-anchor="end" class="n">32</text>
<text transform="translate(184.6,331.7) scale(0.95,1)" font-size="15.5" text-anchor="end" class="n">34</text>
<text transform="translate(184.6,297.7) scale(0.95,1)" font-size="15.5" text-anchor="end" class="n">36</text>
<text transform="translate(184.6,262.7) scale(0.95,1)" font-size="15.5" text-anchor="end" class="n">38</text>
<text transform="translate(184.6,228.7) scale(0.95,1)" font-size="15.5" text-anchor="end" class="n">40</text>
<text transform="translate(184.6,193.7) scale(0.95,1)" font-size="15.5" text-anchor="end" class="n">42</text>
<text transform="translate(184.6,159.7) scale(0.95,1)" font-size="15.5" text-anchor="end" class="n">44</text>
<text transform="translate(184.6,124.7) scale(0.95,1)" font-size="15.5" text-anchor="end" class="n">46</text>
<text transform="translate(184.6,90.7) scale(0.95,1)" font-size="15.5" text-anchor="end" class="n">48</text>
<text transform="translate(184.6,55.7) scale(0.95,1)" font-size="15.5" text-anchor="end" class="n">50</text>
<text transform="translate(1034.9,435.7) scale(0.95,1)" font-size="15.5" class="n">60</text>
<text transform="translate(1034.9,393.5) scale(0.95,1)" font-size="15.5" class="n">65</text>
<text transform="translate(1034.9,351.3) scale(0.95,1)" font-size="15.5" class="n">70</text>
<text transform="translate(1034.9,309.0) scale(0.95,1)" font-size="15.5" class="n">75</text>
<text transform="translate(1034.9,266.8) scale(0.95,1)" font-size="15.5" class="n">80</text>
<text transform="translate(1034.9,224.6) scale(0.95,1)" font-size="15.5" class="n">85</text>
<text transform="translate(1034.9,182.4) scale(0.95,1)" font-size="15.5" class="n">90</text>
<text transform="translate(1034.9,140.1) scale(0.95,1)" font-size="15.5" class="n">95</text>
<text transform="translate(1034.9,97.9) scale(0.95,1)" font-size="15.5" class="n">100</text>
<text transform="translate(1034.9,55.7) scale(0.95,1)" font-size="15.5" class="n">105</text>
<text transform="translate(192.5,447.6) scale(0.94,1)" font-size="13.8" text-anchor="middle" class="n">04/17/23</text>
<text transform="translate(192.5,462.7) scale(0.94,1)" font-size="13.8" text-anchor="middle" class="n">00:00</text>
<text transform="translate(262.5,447.6) scale(0.94,1)" font-size="13.8" text-anchor="middle" class="n">04/17/23</text>
<text transform="translate(262.5,462.7) scale(0.94,1)" font-size="13.8" text-anchor="middle" class="n">02:00</text>
<text transform="translate(331.5,447.6) scale(0.94,1)" font-size="13.8" text-anchor="middle" class="n">04/17/23</text>
<text transform="translate(331.5,462.7) scale(0.94,1)" font-size="13.8" text-anchor="middle" class="n">04:00</text>
<text transform="translate(401.5,447.6) scale(0.94,1)" font-size="13.8" text-anchor="middle" class="n">04/17/23</text>
<text transform="translate(401.5,462.7) scale(0.94,1)" font-size="13.8" text-anchor="middle" class="n">06:00</text>
<text transform="translate(470.5,447.6) scale(0.94,1)" font-size="13.8" text-anchor="middle" class="n">04/17/23</text>
<text transform="translate(470.5,462.7) scale(0.94,1)" font-size="13.8" text-anchor="middle" class="n">08:00</text>
<text transform="translate(539.5,447.6) scale(0.94,1)" font-size="13.8" text-anchor="middle" class="n">04/17/23</text>
<text transform="translate(539.5,462.7) scale(0.94,1)" font-size="13.8" text-anchor="middle" class="n">10:00</text>
<text transform="translate(609.5,447.6) scale(0.94,1)" font-size="13.8" text-anchor="middle" class="n">04/17/23</text>
<text transform="translate(609.5,462.7) scale(0.94,1)" font-size="13.8" text-anchor="middle" class="n">12:00</text>
<text transform="translate(678.5,447.6) scale(0.94,1)" font-size="13.8" text-anchor="middle" class="n">04/17/23</text>
<text transform="translate(678.5,462.7) scale(0.94,1)" font-size="13.8" text-anchor="middle" class="n">14:00</text>
<text transform="translate(748.5,447.6) scale(0.94,1)" font-size="13.8" text-anchor="middle" class="n">04/17/23</text>
<text transform="translate(748.5,462.7) scale(0.94,1)" font-size="13.8" text-anchor="middle" class="n">16:00</text>
<text transform="translate(818.5,447.6) scale(0.94,1)" font-size="13.8" text-anchor="middle" class="n">04/17/23</text>
<text transform="translate(818.5,462.7) scale(0.94,1)" font-size="13.8" text-anchor="middle" class="n">18:00</text>
<text transform="translate(887.5,447.6) scale(0.94,1)" font-size="13.8" text-anchor="middle" class="n">04/17/23</text>
<text transform="translate(887.5,462.7) scale(0.94,1)" font-size="13.8" text-anchor="middle" class="n">20:00</text>
<text transform="translate(957.5,447.6) scale(0.94,1)" font-size="13.8" text-anchor="middle" class="n">04/17/23</text>
<text transform="translate(957.5,462.7) scale(0.94,1)" font-size="13.8" text-anchor="middle" class="n">22:00</text>
<text transform="translate(1026.5,447.6) scale(0.94,1)" font-size="13.8" text-anchor="middle" class="n">04/18/23</text>
<text transform="translate(1026.5,462.7) scale(0.94,1)" font-size="13.8" text-anchor="middle" class="n">00:00</text>
<text x="609.2" y="484" font-size="15.1" font-weight="bold" text-anchor="middle">Date/Time (EDT)</text>
<text transform="translate(158.6,241.3) rotate(-90)" font-size="15.3" font-weight="bold" text-anchor="middle">Temperature ( F)</text>
<text transform="translate(1080.6,240) rotate(-90)" font-size="15.1" font-weight="bold" text-anchor="middle">Relative Humidity (%)</text>
<rect x="8.5" y="30.5" width="7" height="7" fill="#ff0000" stroke="#000" stroke-width="1"/>
<text transform="translate(20.3,37.8) scale(0.96,1)" font-size="10.9" class="n">2.0m Temperature</text>
<rect x="8.5" y="44.5" width="7" height="7" fill="#0000ff" stroke="#000" stroke-width="1"/>
<text transform="translate(20.3,51.8) scale(0.96,1)" font-size="10.9" class="n">2.0m Dew Point</text>
<rect x="8.5" y="58.5" width="7" height="7" fill="#00ff00" stroke="#000" stroke-width="1"/>
<text transform="translate(20.3,65.8) scale(0.96,1)" font-size="10.9" class="n">2.0m Relative Humidity</text>
</g>
</svg>
</body></html>
